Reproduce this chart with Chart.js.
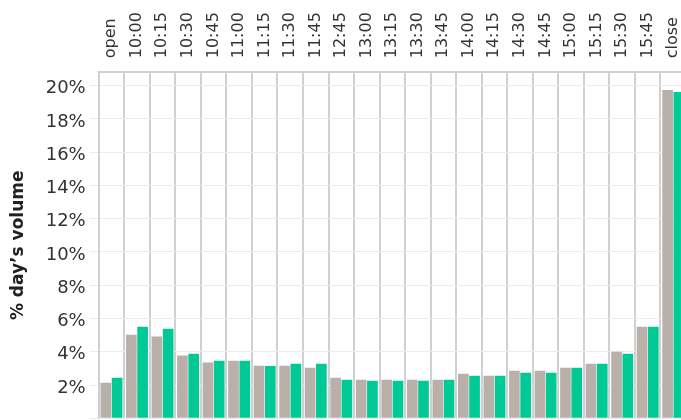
<!DOCTYPE html>
<html>
<head>
<meta charset="utf-8">
<script src="https://cdn.jsdelivr.net/npm/chart.js@4/dist/chart.umd.min.js"></script>
<style>
  html, body { margin: 0; padding: 0; overflow: hidden; background: #fff; }
  #wrap { width: 686px; height: 420px; position: relative; }
</style>
</head>
<body>
<div id="wrap"><canvas id="c"></canvas></div>
<script>
const categories = ["open","10:00","10:15","10:30","10:45","11:00","11:15","11:30","11:45","12:45","13:00","13:15","13:30","13:45","14:00","14:15","14:30","14:45","15:00","15:15","15:30","15:45","close"];
const seriesA = [2.14, 5.03, 4.91, 3.77, 3.35, 3.46, 3.16, 3.16, 3.04, 2.44, 2.32, 2.32, 2.32, 2.32, 2.68, 2.56, 2.86, 2.86, 3.04, 3.28, 4.00, 5.51, 19.74];
const seriesB = [2.44, 5.51, 5.39, 3.88, 3.46, 3.46, 3.15, 3.28, 3.28, 2.32, 2.26, 2.26, 2.26, 2.32, 2.56, 2.56, 2.74, 2.74, 3.04, 3.28, 3.88, 5.51, 19.62];
const yTicks = [2, 4, 6, 8, 10, 12, 14, 16, 18, 20];

const FONT = "'DejaVu Sans', sans-serif";

new Chart(document.getElementById('c'), {
  type: 'bar',
  data: {
    labels: categories,
    datasets: [
      { label: 'Average', data: seriesA, backgroundColor: '#b9b0aa', borderWidth: 0, categoryPercentage: 0.88, barPercentage: 0.95 },
      { label: 'Today', data: seriesB, backgroundColor: '#00c996', borderWidth: 0, categoryPercentage: 0.88, barPercentage: 0.95 }
    ]
  },
  options: {
    responsive: true,
    maintainAspectRatio: false,
    animation: false,
    layout: { padding: { left: 0, right: 0, top: 0, bottom: 1.7 } },
    plugins: { legend: { display: false }, tooltip: { enabled: false } },
    scales: {
      x: {
        position: 'top',
        offset: true,
        grid: { offset: true, color: '#d0d0d0', lineWidth: 2, drawTicks: false },
        border: { color: '#d0d0d0', width: 2 },
        ticks: {
          autoSkip: false, minRotation: 90, maxRotation: 90, padding: 14, labelOffset: 19,
          color: '#333', font: { family: FONT, size: 16 }
        },
        afterFit: s => { s.height = 72.3; s.paddingLeft = 0; s.paddingRight = 0; }
      },
      y: {
        min: 0, max: 20.8,
        grid: { color: '#ececec', lineWidth: 1, tickLength: 9, tickColor: '#ececec' },
        border: { color: '#d0d0d0', width: 2 },
        afterBuildTicks: s => { s.ticks = [0].concat(yTicks).map(v => ({ value: v })); },
        ticks: {
          padding: 4, labelOffset: 3, color: '#333', font: { family: FONT, size: 18 },
          callback: v => (v === 0 ? '' : v + '%')
        },
        title: {
          display: true, text: '% day\u2019s volume', color: '#222',
          font: { family: FONT, size: 17, weight: 'bold' },
          padding: { top: 8, bottom: 0 }
        },
        afterFit: s => { s.width = 98.7; s.paddingTop = 0; s.paddingBottom = 0; }
      }
    }
  }
});
</script>
</body>
</html>
